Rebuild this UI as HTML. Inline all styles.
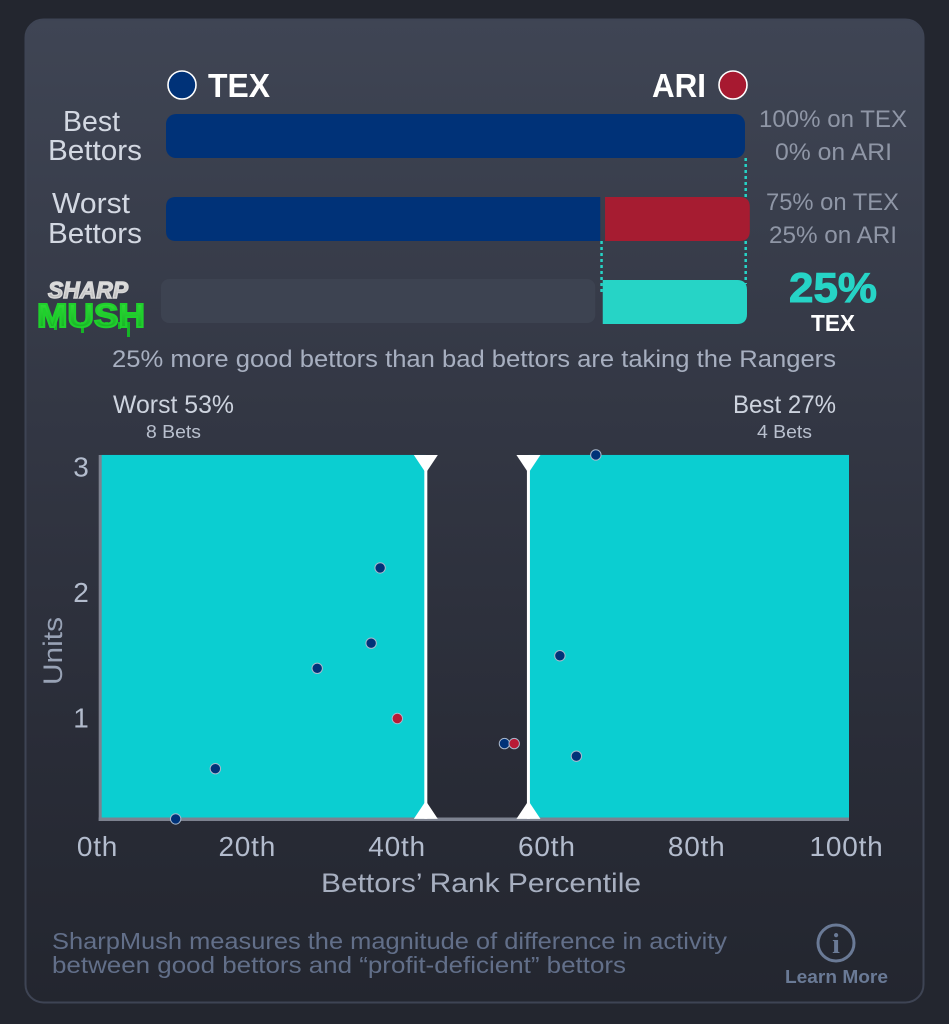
<!DOCTYPE html>
<html lang="en">
<head>
<meta charset="utf-8">
<title>SharpMush TEX vs ARI</title>
<style>
html,body{margin:0;padding:0;width:949px;height:1024px;overflow:hidden;background:#23262f;}
svg{display:block;}
text{font-family:"Liberation Sans",sans-serif;}
</style>
</head>
<body>
<svg id="chart" width="949" height="1024" viewBox="0 0 949 1024" xmlns="http://www.w3.org/2000/svg">
<defs>
<linearGradient id="cardFill" x1="0" y1="0" x2="0" y2="1">
<stop offset="0" stop-color="#3f4554"/>
<stop offset="0.4" stop-color="#333744"/>
<stop offset="0.75" stop-color="#292c37"/>
<stop offset="1" stop-color="#23262f"/>
</linearGradient>
<linearGradient id="sharpFill" x1="0" y1="0" x2="0" y2="1">
<stop offset="0" stop-color="#f2f2f2"/>
<stop offset="1" stop-color="#a9a9a9"/>
</linearGradient>
<linearGradient id="mushFill" x1="0" y1="0" x2="0" y2="1">
<stop offset="0" stop-color="#35e63a"/>
<stop offset="1" stop-color="#12a823"/>
</linearGradient>
</defs>

<rect width="949" height="1024" fill="#23262f"/>
<rect x="25.5" y="19.5" width="898" height="983" rx="18" fill="url(#cardFill)" stroke="#3e4454" stroke-width="2"/>

<circle cx="182" cy="85" r="14" fill="#003278" stroke="#ffffff" stroke-width="1.6"/>
<text x="208" y="97" font-size="33" font-weight="700" fill="#ffffff" textLength="62" lengthAdjust="spacingAndGlyphs">TEX</text>
<text x="652" y="97" font-size="33" font-weight="700" fill="#ffffff" textLength="54" lengthAdjust="spacingAndGlyphs">ARI</text>
<circle cx="733" cy="85" r="14" fill="#a71930" stroke="#ffffff" stroke-width="1.6"/>

<text x="63" y="131" font-size="29" fill="#d3d8e2" textLength="57" lengthAdjust="spacingAndGlyphs">Best</text>
<text x="48" y="160" font-size="29" fill="#d3d8e2" textLength="94" lengthAdjust="spacingAndGlyphs">Bettors</text>
<text x="52" y="213" font-size="29" fill="#d3d8e2" textLength="78" lengthAdjust="spacingAndGlyphs">Worst</text>
<text x="48" y="243" font-size="29" fill="#d3d8e2" textLength="94" lengthAdjust="spacingAndGlyphs">Bettors</text>

<g id="bars"></g>

<g>
<text x="48" y="298" font-size="23" font-weight="700" font-style="italic" fill="url(#sharpFill)" stroke="#d8d8d8" stroke-width="1.4" textLength="80" lengthAdjust="spacingAndGlyphs">SHARP</text>
<g fill="#15b526">
<rect x="42" y="320" width="3" height="8"/><rect x="54" y="322" width="3" height="8"/>
<rect x="81" y="322" width="3" height="11"/><rect x="105" y="322" width="3" height="6"/>
<rect x="118" y="322" width="3" height="7"/><rect x="127" y="322" width="3" height="15"/>
</g>
<text x="37" y="327" font-size="33" font-weight="700" fill="url(#mushFill)" stroke="#1fd02c" stroke-width="2" textLength="108" lengthAdjust="spacingAndGlyphs">MUSH</text>
</g>

<text x="759" y="127" font-size="24" fill="#8f96a6" textLength="148" lengthAdjust="spacingAndGlyphs">100% on TEX</text>
<text x="775" y="160" font-size="24" fill="#8f96a6" textLength="117" lengthAdjust="spacingAndGlyphs">0% on ARI</text>
<text x="766" y="210" font-size="24" fill="#8f96a6" textLength="133" lengthAdjust="spacingAndGlyphs">75% on TEX</text>
<text x="769" y="243" font-size="24" fill="#8f96a6" textLength="128" lengthAdjust="spacingAndGlyphs">25% on ARI</text>
<text x="789" y="302" font-size="42" font-weight="700" fill="#26d4c6" stroke="#26d4c6" stroke-width="1" textLength="88" lengthAdjust="spacingAndGlyphs">25%</text>
<text x="811" y="331" font-size="23" font-weight="700" fill="#ffffff" textLength="44" lengthAdjust="spacingAndGlyphs">TEX</text>

<text x="112" y="367" font-size="24" fill="#a7afc0" textLength="724" lengthAdjust="spacingAndGlyphs">25% more good bettors than bad bettors are taking the Rangers</text>

<text x="113" y="413" font-size="25" fill="#cdd3de" textLength="121" lengthAdjust="spacingAndGlyphs">Worst 53%</text>
<text x="146" y="438" font-size="18" fill="#b9c0ce" textLength="55" lengthAdjust="spacingAndGlyphs">8 Bets</text>
<text x="733" y="413" font-size="25" fill="#cdd3de" textLength="103" lengthAdjust="spacingAndGlyphs">Best 27%</text>
<text x="757" y="438" font-size="18" fill="#b9c0ce" textLength="55" lengthAdjust="spacingAndGlyphs">4 Bets</text>

<g id="plot"></g>

<text transform="translate(62 685) rotate(-90)" font-size="27" fill="#98a2b5" textLength="68" lengthAdjust="spacingAndGlyphs">Units</text>
<text x="321" y="892" font-size="27" fill="#a7afc0" textLength="320" lengthAdjust="spacingAndGlyphs">Bettors’ Rank Percentile</text>

<text x="52" y="949" font-size="23" fill="#626f89" textLength="675" lengthAdjust="spacingAndGlyphs">SharpMush measures the magnitude of difference in activity</text>
<text x="52" y="973" font-size="23" fill="#626f89" textLength="574" lengthAdjust="spacingAndGlyphs">between good bettors and “profit-deficient” bettors</text>

<g>
<circle cx="836" cy="943" r="18" fill="none" stroke="#6a7a96" stroke-width="3"/>
<text x="836" y="953" text-anchor="middle" font-size="28" font-weight="700" fill="#6a7a96" style="font-family:'Liberation Serif',serif">i</text>
<text x="785" y="983" font-size="18" font-weight="700" fill="#6a7a96" textLength="103" lengthAdjust="spacingAndGlyphs">Learn More</text>
</g>
</svg>

<script>
var bestShares = [100, 0];
var worstShares = [75, 25];
var mushShare = [25];

var xTickValues = [0, 20, 40, 60, 80, 100];
var xTickLabels = ["0th", "20th", "40th", "60th", "80th", "100th"];
var yTickValues = [1, 2, 3];
var yTickLabels = ["1", "2", "3"];

var bandEdges = [43.5, 57.2];

var dotPercentile = [10.1, 15.4, 29, 36.2, 37.4, 39.7, 54.0, 55.3, 61.4, 63.6, 66.2];
var dotUnits = [0.2, 0.6, 1.4, 1.6, 2.2, 1.0, 0.8, 0.8, 1.5, 0.7, 3.1];
var dotTeam = ["TEX", "TEX", "TEX", "TEX", "TEX", "ARI", "TEX", "ARI", "TEX", "TEX", "TEX"];

var NS = "http://www.w3.org/2000/svg";
function mk(parent, tag, attrs) {
  var el = document.createElementNS(NS, tag);
  for (var k in attrs) { el.setAttribute(k, attrs[k]); }
  parent.appendChild(el);
  return el;
}

/* share scale */
function shareW(v) { return 579 * v / 100; }
/* chart axes */
function xPos(p) { return 100 + 7.49 * p; }
function yPos(u) { return 718.5 - (u - 1) * 125.5; }

var bars = document.getElementById("bars");
var plot = document.getElementById("plot");
var el;

function roundedRight(x, y, w, h, r) {
  return "M" + x + " " + y + "H" + (x + w - r) + "Q" + (x + w) + " " + y + " " + (x + w) + " " + (y + r) +
    "V" + (y + h - r) + "Q" + (x + w) + " " + (y + h) + " " + (x + w - r) + " " + (y + h) + "H" + x + "Z";
}
function roundedLeft(x, y, w, h, r) {
  return "M" + (x + w) + " " + y + "H" + (x + r) + "Q" + x + " " + y + " " + x + " " + (y + r) +
    "V" + (y + h - r) + "Q" + x + " " + (y + h) + " " + (x + r) + " " + (y + h) + "H" + (x + w) + "Z";
}

/* connector lines */
var worstSplitX = 166 + shareW(worstShares[0]);
var fullX = 166 + shareW(100);
el = mk(bars, "line", {x1: fullX + 0.7, x2: fullX + 0.7, y1: 158, y2: 197, stroke: "#26d4c6", "stroke-width": 2.5, "stroke-dasharray": "3 3"});


el = mk(bars, "line", {x1: fullX + 0.7, x2: fullX + 0.7, y1: 241, y2: 284, stroke: "#26d4c6", "stroke-width": 2.5, "stroke-dasharray": "3 3"});


el = mk(bars, "line", {x1: worstSplitX + 1.3, x2: worstSplitX + 1.3, y1: 241, y2: 295, stroke: "#26d4c6", "stroke-width": 2.5, "stroke-dasharray": "3 3"});



/* best bar */
el = mk(bars, "rect", {x: 166, y: 114, width: shareW(bestShares[0]), height: 44, rx: 10, fill: "#003278"});



/* worst bars */
el = mk(bars, "path", {d: roundedLeft(166, 197, shareW(worstShares[0]), 44, 10), fill: "#003278"});


el = mk(bars, "path", {d: roundedRight(worstSplitX + 4.8, 197, shareW(worstShares[1]), 44, 10), fill: "#a61c31"});



/* mush bars */
el = mk(bars, "rect", {x: 161, y: 279, width: shareW(100 - mushShare[0]), height: 44, rx: 8, fill: "#3d4351"});


el = mk(bars, "path", {d: roundedRight(747 - shareW(mushShare[0]) + 0.5, 280, shareW(mushShare[0]) - 0.5, 44, 10), fill: "#26d4c6"});



/* plot panels */
var plotTop = yPos(3.1);
var plotBottom = yPos(0.2);
var L = xPos(0);
var R = xPos(100);
var a = xPos(bandEdges[0]);
var b = xPos(bandEdges[1]);

el = mk(plot, "rect", {x: L, y: plotTop, width: a - L, height: plotBottom - plotTop, fill: "#0bced1"});


el = mk(plot, "rect", {x: b, y: plotTop, width: R - b, height: plotBottom - plotTop, fill: "#0bced1"});



/* axes */
el = mk(plot, "line", {x1: L + 0.2, x2: L + 0.2, y1: plotTop, y2: plotBottom + 2, stroke: "#7d8290", "stroke-width": 3});


el = mk(plot, "line", {x1: L - 1.3, x2: R, y1: plotBottom + 0.4, y2: plotBottom + 0.4, stroke: "#7d8290", "stroke-width": 3.5});



/* cutoff markers */
bandEdges.forEach(function (edge) {
  var x = xPos(edge);
  var line = mk(plot, "line", {x1: x, x2: x, y1: plotTop, y2: plotBottom, stroke: "#ffffff", "stroke-width": 3});
  
  
  var top = mk(plot, "polygon", {points: (x - 12) + "," + plotTop + " " + (x + 12) + "," + plotTop + " " + x + "," + (plotTop + 18), fill: "#ffffff"});
  
  
  var bottom = mk(plot, "polygon", {points: (x - 12) + "," + plotBottom + " " + (x + 12) + "," + plotBottom + " " + x + "," + (plotBottom - 18), fill: "#ffffff"});
  
  
});

/* ticks */
xTickValues.forEach(function (v, i) {
  var t = mk(plot, "text", {x: xPos(v) - 2.5, y: 856, "text-anchor": "middle", "font-size": 28, "letter-spacing": 0.8, fill: "#b3bccd"});
  t.textContent = xTickLabels[i];
  
  
});
yTickValues.forEach(function (v, i) {
  var t = mk(plot, "text", {x: 81, y: yPos(v) + 9, "text-anchor": "middle", "font-size": 28, fill: "#b3bccd"});
  t.textContent = yTickLabels[i];
  
  
});

/* dots */
dotPercentile.forEach(function (p, i) {
  var c = mk(plot, "circle", {cx: xPos(p), cy: yPos(dotUnits[i]), r: 5.2, fill: dotTeam[i] === "ARI" ? "#b81a36" : "#003278", stroke: "#a9b8cc", "stroke-width": 1});
  
  
});
</script>
</body>
</html>
